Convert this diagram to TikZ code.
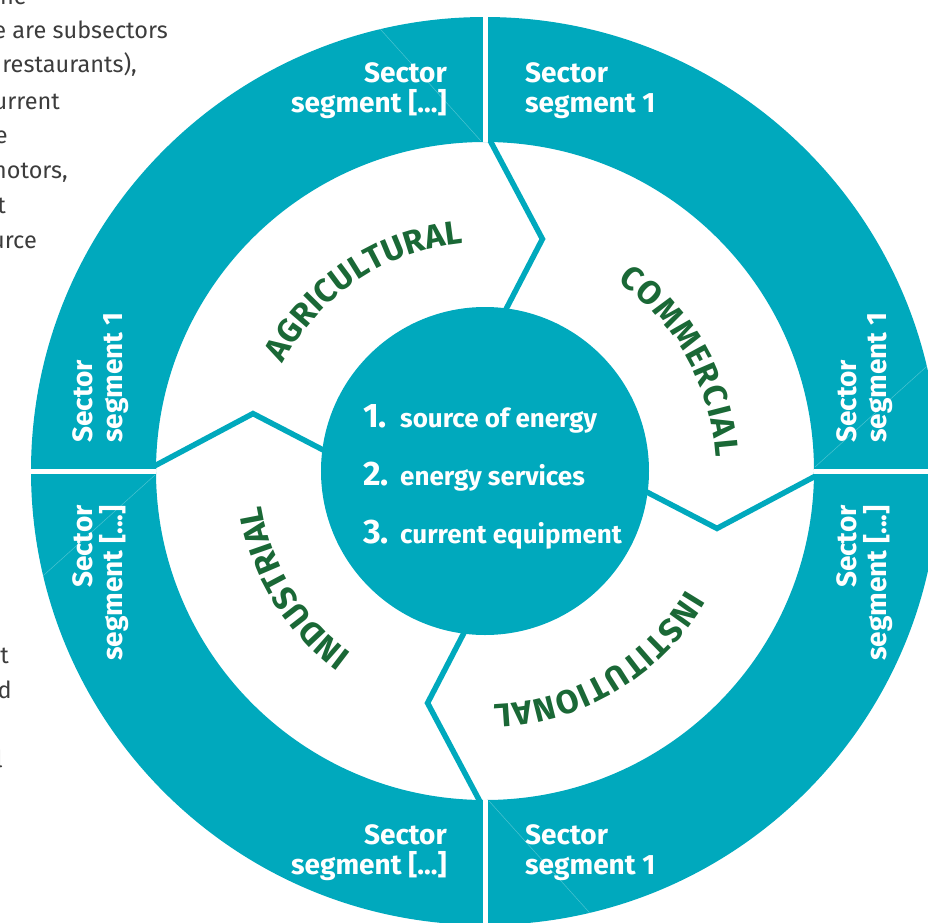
\documentclass[tikz,border=0pt]{standalone}
\usepackage{fontspec}
\setmainfont{Fira Sans}
\usetikzlibrary{decorations.text}
\definecolor{ringteal}{RGB}{0,169,189}
\definecolor{labelgreen}{RGB}{26,104,54}
\definecolor{bodygray}{RGB}{60,60,60}
\newcommand\lblfont{\fontsize{33}{33}\selectfont\bfseries}
\begin{document}
\begin{tikzpicture}[x=1pt,y=1pt,
  seglabel/.style={text=white, font=\fontsize{28}{30}\selectfont\bfseries, inner sep=0pt},
  leftfrag/.style={text=bodygray, font=\fontsize{23.5}{26}\selectfont, inner sep=0pt, anchor=base east},
  zigzag/.style={draw=ringteal, line width=5.5pt, line join=miter},
  divider/.style={draw=white, line width=5pt},
  seam/.style={draw=ringteal!70!white, line width=0.5pt},
  numstyle/.style={text=white, font=\fontsize{34}{34}\selectfont\bfseries, inner sep=0pt, anchor=base west},
  itemstyle/.style={text=white, font=\fontsize{26}{26}\selectfont\bfseries, inner sep=0pt, anchor=base west},
  arclabel/.style={decorate, decoration={text along path, text={|\lblfont|#1}, text align={fit to path}, text color=labelgreen}}
  ]
\useasboundingbox (-485,-451) rectangle (443,471);
\clip (-485,-451) rectangle (443,471);

% ring
\fill[ringteal, even odd rule] (0,0) circle (454) (0,0) circle (329);

% zigzag connectors
\foreach \a/\nm in {90/t, 0/r, -90/b, 180/l}{
  \coordinate (\nm0) at (\a:340);
  \coordinate (\nm1) at (\a-13.9:239);
  \coordinate (\nm2) at (\a-6.3:155);
}
\draw[zigzag] (t0) -- (t1) -- (t2);
\draw[zigzag] (r0) -- (r1) -- (r2);
\draw[zigzag] (b0) -- (b1) -- (b2);
\draw[zigzag] (l0) -- (l1) -- (l2);

% hub
\node[circle, fill=ringteal, minimum size=328pt, inner sep=0pt] (hub) at (0,0) {};

% seams
\begin{scope}
\clip (0,0) circle (454);
\draw[seam] (-4,330) -- ++(132:200);
\draw[seam] (330,4) -- ++(42:200);
\draw[seam] (4,-330) -- ++(-48:200);
\draw[seam] (-330,-4) -- ++(222:200);
\end{scope}

% dividers
\draw[divider] (90:329) -- (90:470);
\draw[divider] (0:329) -- (0:470);
\draw[divider] (-90:329) -- (-90:470);
\draw[divider] (180:329) -- (180:470);

% sector segment labels (base = last line)
\node[seglabel, align=right, anchor=base east] (sTL) at (-38,359) {Sector\\segment [...]};
\node[seglabel, align=left, anchor=base west] (sTR) at (40,359) {Sector\\segment 1};
\node[seglabel, align=right, anchor=base east] (sBL) at (-38,-403) {Sector\\segment [...]};
\node[seglabel, align=left, anchor=base west] (sBR) at (40,-403) {Sector\\segment 1};
\node[seglabel, rotate=90, align=left, anchor=base west] (sRU) at (401,28) {Sector\\segment 1};
\node[seglabel, rotate=90, align=right, anchor=base east] (sRL) at (401,-34) {Sector\\segment [...]};
\node[seglabel, rotate=90, align=left, anchor=base west] (sLU) at (-362,28) {Sector\\segment 1};
\node[seglabel, rotate=90, align=right, anchor=base east] (sLL) at (-362,-34) {Sector\\segment [...]};

% sector names along arcs
\path[arclabel=AGRICULTURAL] (152:229) arc[start angle=152, end angle=95.5, radius=229];
\path[arclabel=COMMERCIAL] (55:231) arc[start angle=55, end angle=3.5, radius=231];
\path[arclabel=INSTITUTIONAL] (-30.4:234) arc[start angle=-30.4, end angle=-88, radius=234];
\path[arclabel=INDUSTRIAL] (233.9:226) arc[start angle=233.9, end angle=188.8, radius=226];

% hub text
\node[numstyle] (n1) at (-122,44) {1.};
\node[itemstyle] (i1) at (-85,44) {source of energy};
\node[numstyle] (n2) at (-122,-14) {2.};
\node[itemstyle] (i2) at (-85,-14) {energy services};
\node[numstyle] (n3) at (-122,-72) {3.};
\node[itemstyle] (i3) at (-85,-72) {current equipment};

% cut-off body text on the left
\node[leftfrag] (f1) at (-458,466) {the};
\node[leftfrag] (f2) at (-317,432) {e are subsectors};
\node[leftfrag] (f3) at (-348,398) {restaurants),};
\node[leftfrag] (f4) at (-425,362) {urrent};
\node[leftfrag] (f5) at (-477,328) {e};
\node[leftfrag] (f6) at (-417,293) {motors,};
\node[leftfrag] (f7) at (-479,258) {t};
\node[leftfrag] (f8) at (-448,223) {urce};
\node[leftfrag] (f9) at (-476,-192) {t};
\node[leftfrag] (f10) at (-473,-227) {d};
\node[leftfrag] (f11) at (-482,-296) {l};
\end{tikzpicture}
\end{document}
